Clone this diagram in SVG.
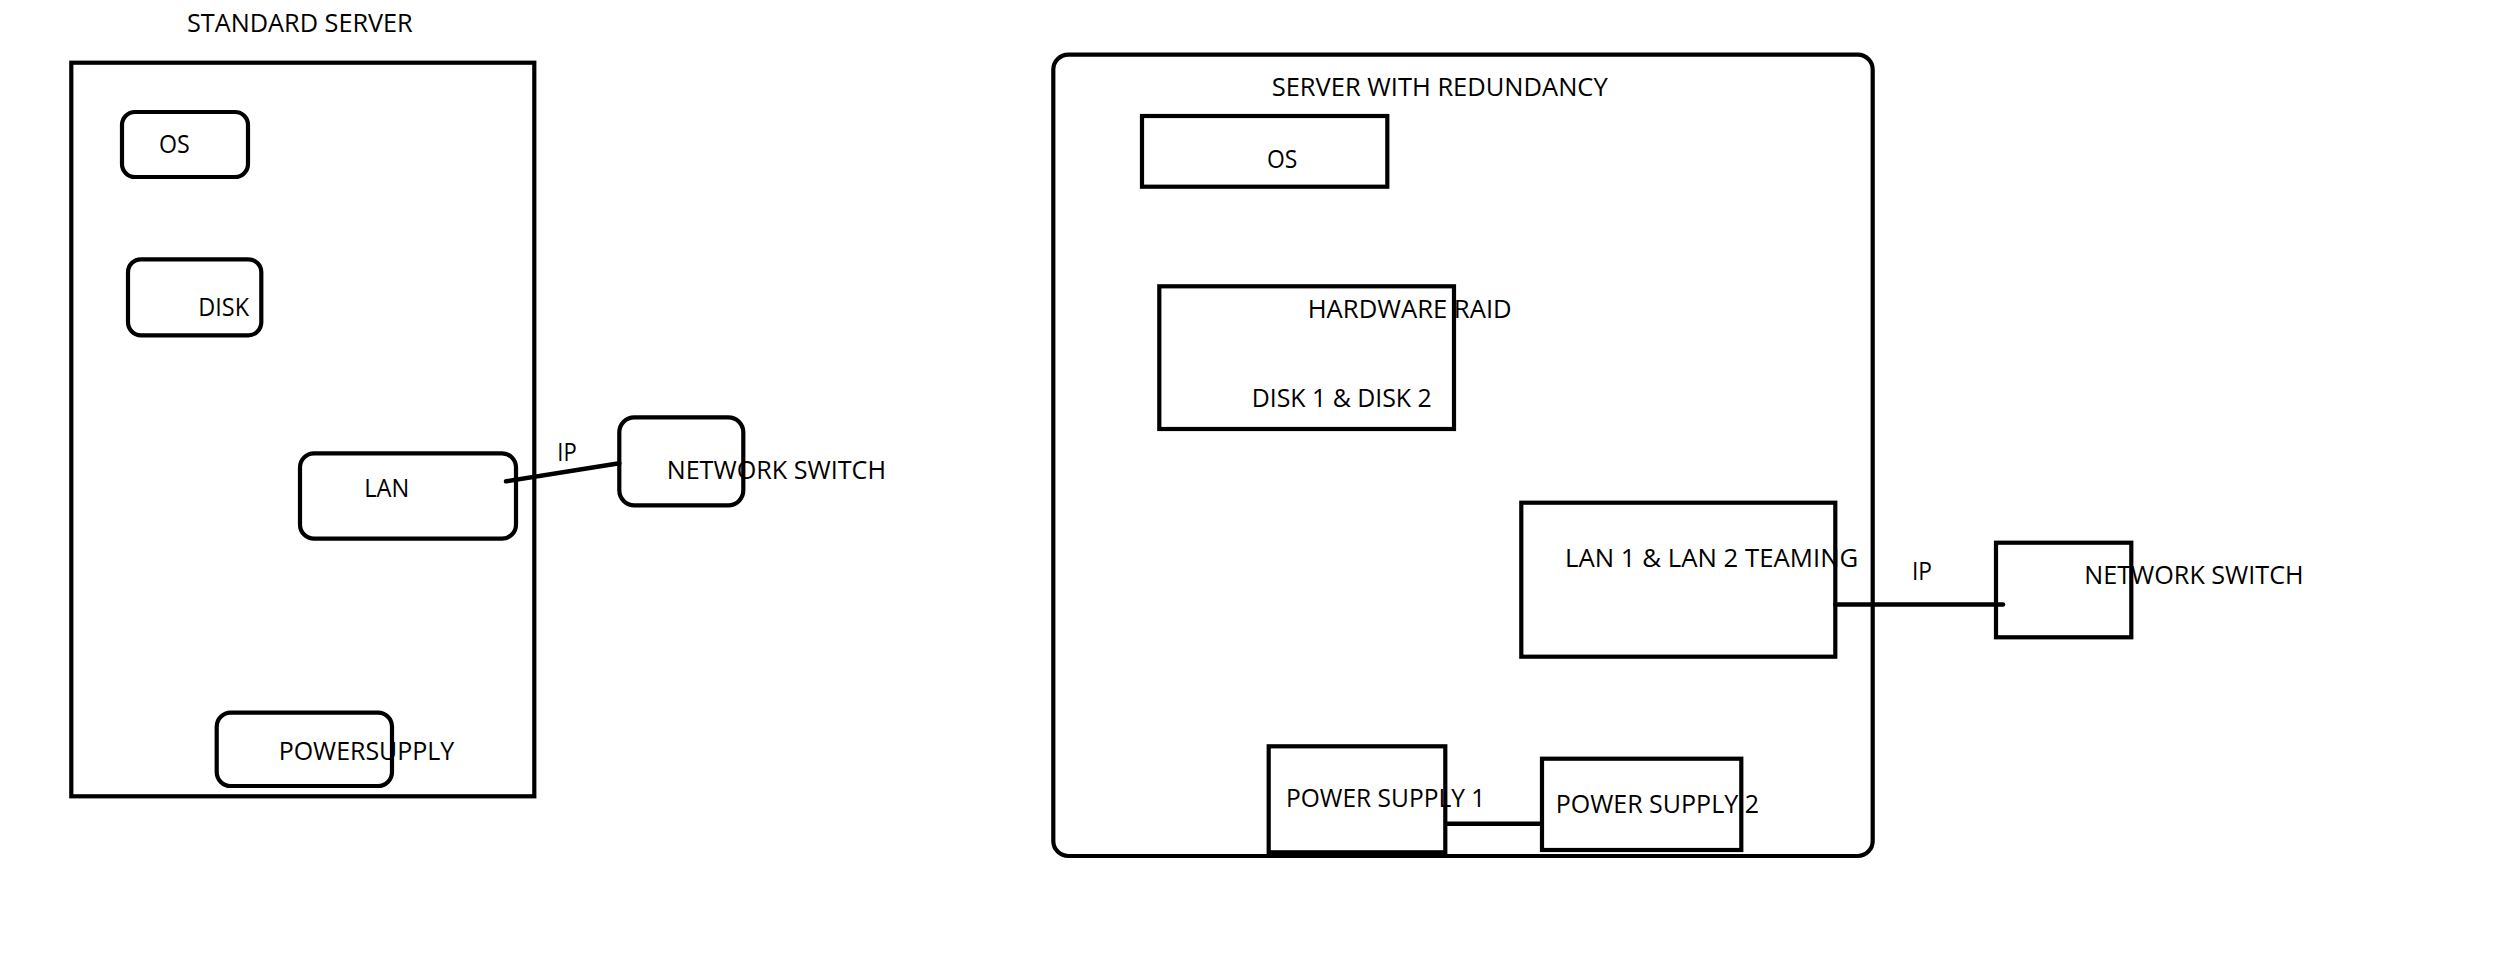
<svg xmlns="http://www.w3.org/2000/svg" width="2503" height="958" viewBox="0 0 2503 958">
  <style>
    .box { fill: none; stroke: #000; stroke-width: 4.2; }
    .lbl { font-family: "Open Sans", "Noto Sans", "Liberation Sans", sans-serif; font-size: 25px; fill: #000; }
    .wire { stroke: #000; stroke-width: 4.5; fill: none; stroke-linecap: round; }
  </style>
  <rect width="2503" height="958" fill="#fff"/>

  <!-- Standard server -->
  <g id="standard-server">
    <rect class="box" x="71.3" y="62.7" width="463" height="733.6"/>
    <text class="lbl" x="187" y="32.3" textLength="225.7" lengthAdjust="spacingAndGlyphs">STANDARD SERVER</text>
  </g>
  <g id="std-os">
    <rect class="box" x="122" y="112" width="126" height="65" rx="13"/>
    <text class="lbl" x="159" y="152.7" textLength="30.7" lengthAdjust="spacingAndGlyphs">OS</text>
  </g>
  <g id="std-disk">
    <rect class="box" x="128" y="259.3" width="133.3" height="76" rx="13"/>
    <text class="lbl" x="198.3" y="315.7" textLength="50.7" lengthAdjust="spacingAndGlyphs">DISK</text>
  </g>
  <g id="std-lan">
    <rect class="box" x="300" y="453.3" width="216" height="85.4" rx="14"/>
    <text class="lbl" x="364.3" y="496.7" textLength="45" lengthAdjust="spacingAndGlyphs">LAN</text>
  </g>
  <g id="std-powersupply">
    <rect class="box" x="216.7" y="712.7" width="175.3" height="73.3" rx="14"/>
    <text class="lbl" x="278.7" y="760" textLength="175.6" lengthAdjust="spacingAndGlyphs">POWERSUPPLY</text>
  </g>
  <g id="std-network-switch">
    <rect class="box" x="619.3" y="417.3" width="124" height="88" rx="15"/>
    <text class="lbl" x="666.7" y="479" textLength="219.3" lengthAdjust="spacingAndGlyphs">NETWORK SWITCH</text>
  </g>

  <!-- Server with redundancy -->
  <g id="redundant-server">
    <rect class="box" x="1053.3" y="54.7" width="819.4" height="801.3" rx="15"/>
    <text class="lbl" x="1271.7" y="95.7" textLength="336" lengthAdjust="spacingAndGlyphs">SERVER WITH REDUNDANCY</text>
  </g>
  <g id="red-os">
    <rect class="box" x="1142" y="116" width="245.3" height="70.7"/>
    <text class="lbl" x="1267" y="168.3" textLength="30.3" lengthAdjust="spacingAndGlyphs">OS</text>
  </g>
  <g id="red-raid">
    <rect class="box" x="1159.3" y="286.3" width="294.7" height="142.7"/>
    <text class="lbl" x="1307.7" y="318.3" textLength="204" lengthAdjust="spacingAndGlyphs">HARDWARE RAID</text>
    <text class="lbl" x="1251.7" y="406.7" textLength="180" lengthAdjust="spacingAndGlyphs">DISK 1 &amp; DISK 2</text>
  </g>
  <g id="red-lan-teaming">
    <rect class="box" x="1521.3" y="502.7" width="314" height="154"/>
    <text class="lbl" x="1565" y="567.3" textLength="293.3" lengthAdjust="spacingAndGlyphs">LAN 1 &amp; LAN 2 TEAMING</text>
  </g>
  <g id="red-power-supply-1">
    <rect class="box" x="1268.7" y="746.3" width="176.6" height="106"/>
    <text class="lbl" x="1286" y="806.7" textLength="199.3" lengthAdjust="spacingAndGlyphs">POWER SUPPLY 1</text>
  </g>
  <g id="red-power-supply-2">
    <rect class="box" x="1542" y="758.7" width="199.3" height="91.3"/>
    <text class="lbl" x="1555.7" y="813.3" textLength="203.3" lengthAdjust="spacingAndGlyphs">POWER SUPPLY 2</text>
  </g>
  <g id="red-network-switch">
    <rect class="box" x="1996" y="542.7" width="135.3" height="94.6"/>
    <text class="lbl" x="2084.3" y="584" textLength="219.3" lengthAdjust="spacingAndGlyphs">NETWORK SWITCH</text>
  </g>

  <!-- Connectors -->
  <g id="connectors">
    <line class="wire" x1="506" y1="481.3" x2="619.3" y2="463.3"/>
    <text class="lbl" x="557.3" y="461.3" textLength="19.4" lengthAdjust="spacingAndGlyphs">IP</text>
    <line class="wire" x1="1835.3" y1="604.5" x2="2003" y2="604.5"/>
    <text class="lbl" x="1912" y="580" textLength="20" lengthAdjust="spacingAndGlyphs">IP</text>
    <line class="wire" x1="1445.3" y1="823.7" x2="1542" y2="823.7" style="stroke-linecap:butt"/>
  </g>
</svg>
